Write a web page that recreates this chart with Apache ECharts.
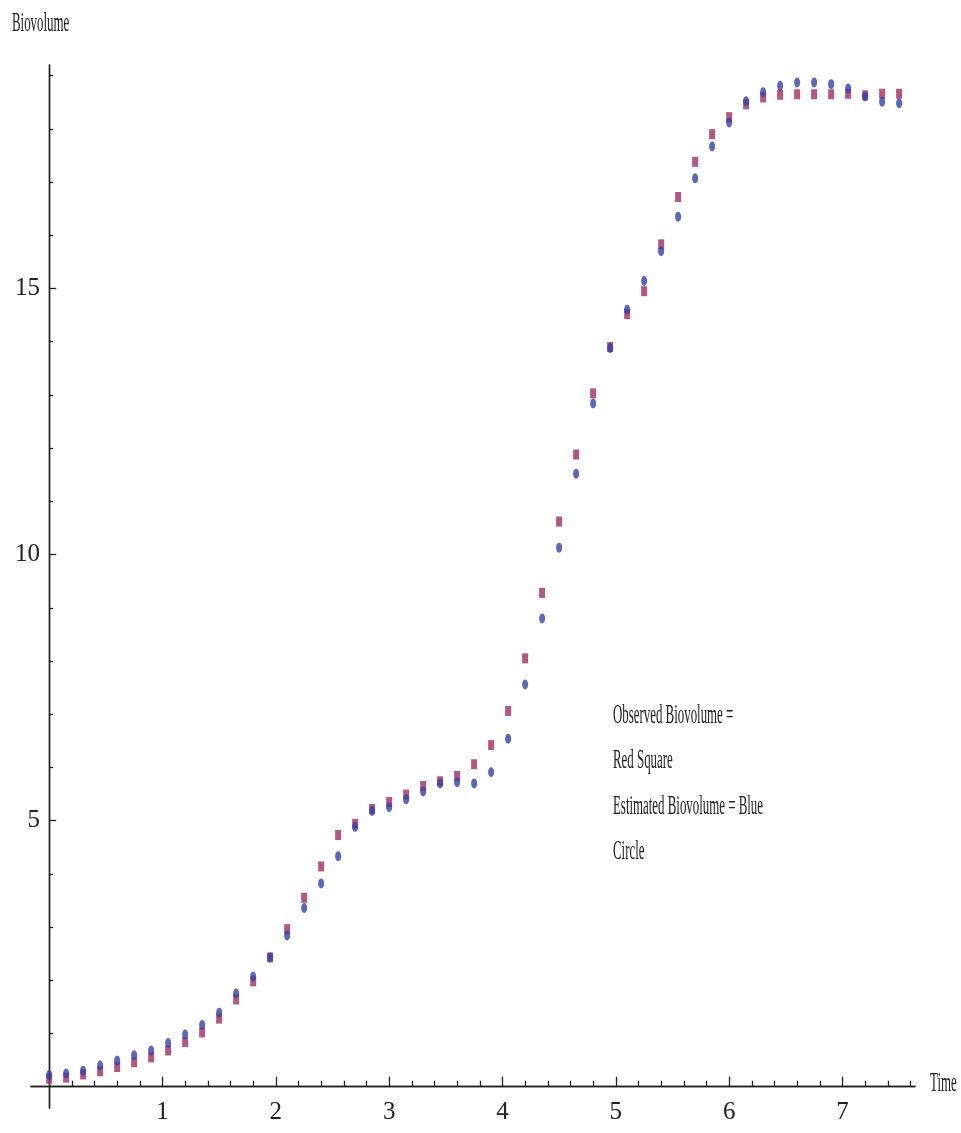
<!DOCTYPE html>
<html>
<head>
<meta charset="utf-8">
<script src="https://cdn.jsdelivr.net/npm/echarts@6/dist/echarts.min.js"></script>
<style>
html,body{margin:0;padding:0;background:#fff;}
#chart{width:961px;height:1133px;}
</style>
</head>
<body>
<div id="chart"></div>
<script>
// ---- data ----
const time = [0.00,0.15,0.30,0.45,0.60,0.75,0.90,1.05,1.20,1.35,1.50,1.65,1.80,1.95,2.10,2.25,2.40,2.55,2.70,2.85,3.00,3.15,3.30,3.45,3.60,3.75,3.90,4.05,4.20,4.35,4.50,4.65,4.80,4.95,5.10,5.25,5.40,5.55,5.70,5.85,6.00,6.15,6.30,6.45,6.60,6.75,6.90,7.05,7.20,7.35,7.50];
const observed = [0.15,0.17,0.23,0.29,0.37,0.46,0.55,0.68,0.84,1.02,1.28,1.64,1.98,2.43,2.96,3.55,4.14,4.73,4.94,5.22,5.35,5.49,5.65,5.74,5.84,6.06,6.42,7.06,8.05,9.28,10.62,11.88,13.03,13.90,14.52,14.95,15.83,16.72,17.38,17.90,18.22,18.46,18.59,18.64,18.65,18.65,18.65,18.66,18.63,18.66,18.66];
const estimated = [0.22,0.25,0.30,0.40,0.49,0.59,0.68,0.82,0.98,1.16,1.39,1.75,2.07,2.43,2.84,3.36,3.82,4.33,4.88,5.18,5.25,5.40,5.55,5.70,5.72,5.70,5.91,6.54,7.56,8.80,10.13,11.52,12.84,13.88,14.60,15.14,15.70,16.35,17.07,17.67,18.12,18.52,18.69,18.81,18.87,18.87,18.84,18.76,18.61,18.51,18.48];
const xMajorTicks = [1,2,3,4,5,6,7];
const xMinorTicks = [0.2,0.4,0.6,0.8,1.2,1.4,1.6,1.8,2.2,2.4,2.6,2.8,3.2,3.4,3.6,3.8,4.2,4.4,4.6,4.8,5.2,5.4,5.6,5.8,6.2,6.4,6.6,6.8,7.2,7.4,7.6];
const yMajorTicks = [5,10,15];
const yMinorTicks = [1,2,3,4,6,7,8,9,11,12,13,14,16,17,18,19];
const xName = 'Time';
const yName = 'Biovolume';
const noteLines = ['Observed Biovolume =','Red Square','Estimated Biovolume = Blue','Circle'];

// ---- chart ----
const FONT = '"Liberation Serif", "Times New Roman", serif';
const AX = '#222';
const X_RANGE = [-0.16, 7.64];
const Y_RANGE = [-0.4, 19.2];

const chart = echarts.init(document.getElementById('chart'), null, {renderer:'canvas'});

function xAxisDef(ticks, labels, len, pos) {
  return {
    type:'value', min:X_RANGE[0], max:X_RANGE[1], position:pos,
    axisLine:{show:true, onZero:true, onZeroAxisIndex:0, lineStyle:{color:AX, width:1.4}},
    axisTick:{show:true, inside:pos==='bottom', length:len, customValues:ticks, lineStyle:{color:AX, width:1.3}},
    axisLabel:{show:!!labels, customValues:labels||[], margin:-8, fontFamily:FONT, fontSize:25, color:AX},
    splitLine:{show:false}
  };
}
function yAxisDef(ticks, labels, len, pos) {
  return {
    type:'value', min:Y_RANGE[0], max:Y_RANGE[1], position:pos,
    axisLine:{show:true, onZero:true, onZeroAxisIndex:0, lineStyle:{color:AX, width:1.4}},
    axisTick:{show:true, inside:pos==='left', length:len, customValues:ticks, lineStyle:{color:AX, width:1.3}},
    axisLabel:{show:!!labels, customValues:labels||[], margin:-9, fontFamily:FONT, fontSize:25, color:AX},
    splitLine:{show:false}
  };
}

const ellipsePath = 'path://M0,5 A5,5 0 1,1 10,5 A5,5 0 1,1 0,5 Z';

function textEl(str, x, y, size, sx) {
  return {type:'text', x:x, y:y, scaleX:sx, scaleY:1, silent:true,
    style:{text:str, fontFamily:FONT, fontSize:size, fill:AX, align:'left', verticalAlign:'middle'}};
}

const noteY = [716, 761, 807, 852];

chart.setOption({
  animation:false,
  backgroundColor:'#fff',
  grid:{left:31, right:46, top:65, bottom:25, containLabel:false, outerBoundsMode:'none'},
  xAxis:[
    xAxisDef(xMajorTicks, xMajorTicks, 10, 'bottom'),
    xAxisDef(xMinorTicks, null, 6, 'top')
  ],
  yAxis:[
    yAxisDef(yMajorTicks, yMajorTicks, 7, 'left'),
    yAxisDef(yMinorTicks, null, 4, 'right')
  ],
  series:[
    {
      name:'Observed Biovolume', type:'scatter', xAxisIndex:0, yAxisIndex:0,
      symbol:'rect', symbolSize:[6,10],
      itemStyle:{color:'#a02f62'},
      data: time.map((t,i)=>[t, observed[i]])
    },
    {
      name:'Estimated Biovolume', type:'scatter', xAxisIndex:0, yAxisIndex:0,
      symbol:ellipsePath, symbolSize:[6,10],
      itemStyle:{color:'#3440a8'},
      data: time.map((t,i)=>[t, estimated[i]])
    }
  ],
  graphic:[
    textEl(yName, 12, 24, 28, 0.46),
    textEl(xName, 930, 1084, 28, 0.46)
  ].concat(noteLines.map((s,i)=>textEl(s, 613, noteY[i], 28, 0.46)))
});
</script>
</body>
</html>
